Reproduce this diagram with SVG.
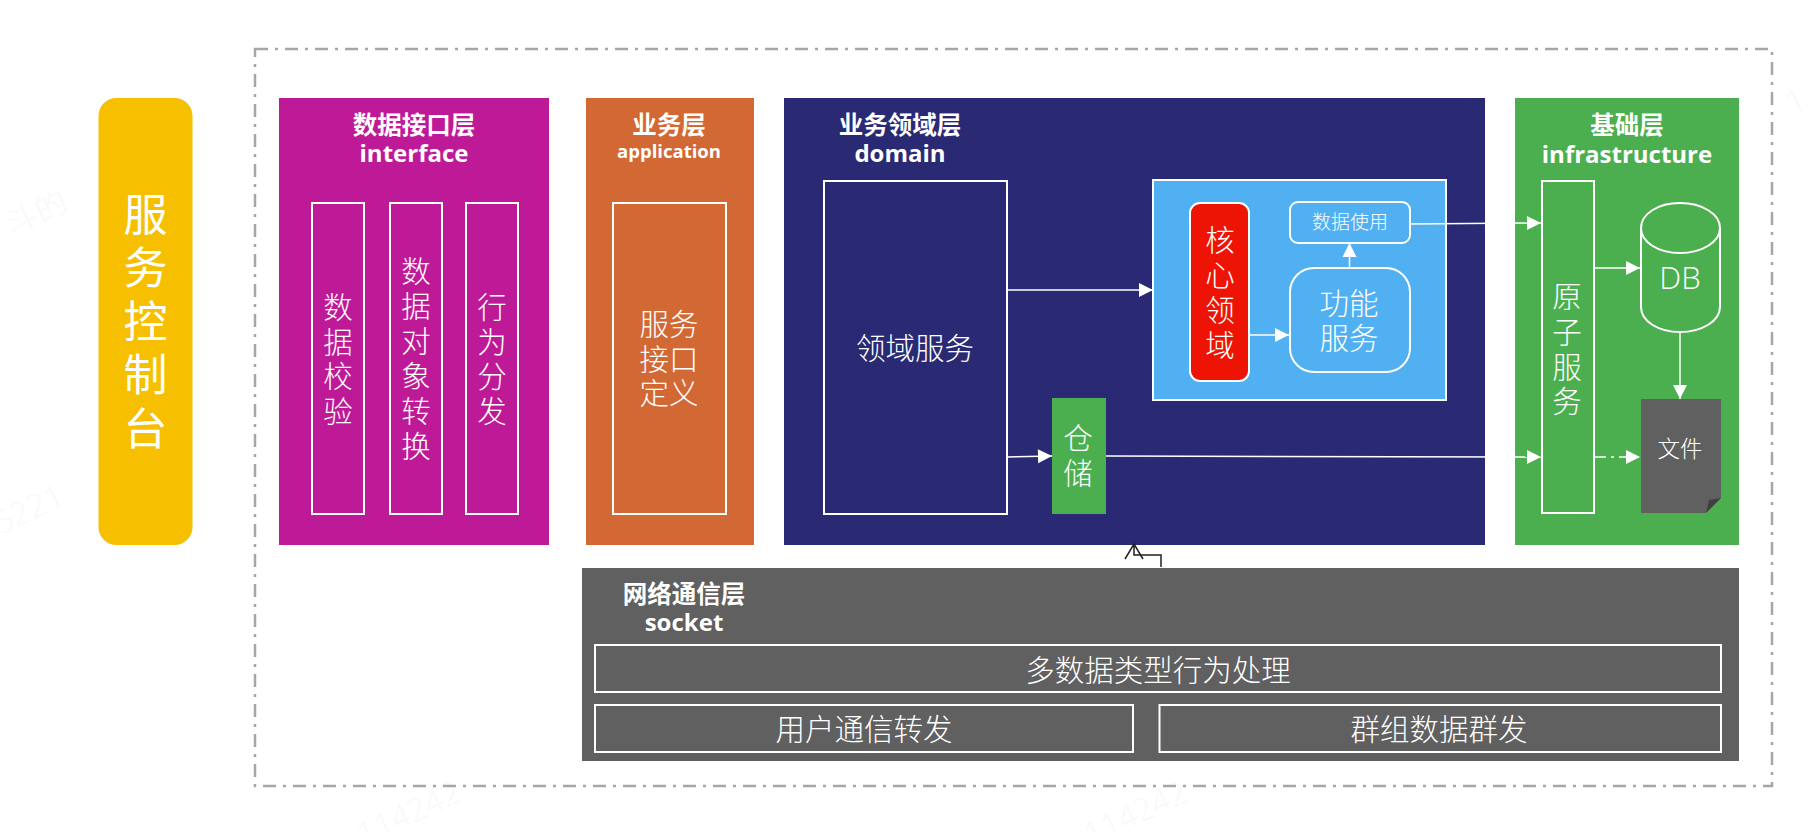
<svg xmlns="http://www.w3.org/2000/svg" width="1808" height="832" viewBox="0 0 1808 832">
<style>
text{font-family:"Open Sans","Noto Sans CJK SC",sans-serif;fill:#fff;text-anchor:middle;dominant-baseline:central}
.h{font-weight:700;font-size:24.500px}
.e{font-weight:700;font-size:24px}
.t{font-size:29.500px;font-weight:300}
.b{fill:none;stroke:#fff;stroke-width:2}
.c{fill:none;stroke:#fff;stroke-width:1.500;marker-end:url(#a)}
.w{fill:#f9f9f9;font-size:32px;font-weight:300}
</style>
<defs><marker id="a" markerUnits="userSpaceOnUse" markerWidth="16" markerHeight="16" refX="15" refY="8" orient="auto"><path d="M1 1L15 8L1 15Z" fill="#fff"/></marker></defs>
<rect width="1808" height="832" fill="#fff"/>
<g id="watermarks">
<text class="w" transform="translate(36 212) rotate(-25)">斗的</text>
<text class="w" transform="translate(28 508) rotate(-25)">5221</text>
<text class="w" transform="translate(408 812) rotate(-25)">114242</text>
<text class="w" transform="translate(1135 812) rotate(-25)">114242</text>
<text class="w" transform="translate(1795 100) rotate(-25)">1</text>
</g>
<rect id="frame" x="255" y="49" width="1517" height="737" fill="none" stroke="#a6a6a6" stroke-width="2.500" stroke-dasharray="13 7 3 7"/>
<g id="console"><rect x="98.500" y="98" width="94" height="447" rx="18" fill="#f6c000"/>
<text font-size="44" font-weight="400"><tspan x="145.500" y="214">服</tspan><tspan x="145.500" y="267">务</tspan><tspan x="145.500" y="321">控</tspan><tspan x="145.500" y="374">制</tspan><tspan x="145.500" y="428">台</tspan></text></g>
<g id="interface"><rect x="279" y="98" width="270" height="447" fill="#be1a97"/>
<text class="h" x="414" y="124">数据接口层</text><text class="e" x="414" y="152">interface</text></g>
<g id="n-check"><rect class="b" x="312" y="203" width="52" height="311"/>
<text class="t"><tspan x="338" y="306">数</tspan><tspan x="338" y="341">据</tspan><tspan x="338" y="375">校</tspan><tspan x="338" y="410">验</tspan></text></g>
<g id="n-convert"><rect class="b" x="390" y="203" width="52" height="311"/>
<text class="t"><tspan x="416" y="270">数</tspan><tspan x="416" y="305">据</tspan><tspan x="416" y="340">对</tspan><tspan x="416" y="375">象</tspan><tspan x="416" y="410">转</tspan><tspan x="416" y="445">换</tspan></text></g>
<g id="n-dispatch"><rect class="b" x="466" y="203" width="52" height="311"/>
<text class="t"><tspan x="492" y="306">行</tspan><tspan x="492" y="341">为</tspan><tspan x="492" y="375">分</tspan><tspan x="492" y="410">发</tspan></text></g>
<g id="application"><rect x="586" y="98" width="168" height="447" fill="#d26834"/>
<text class="h" x="669" y="124">业务层</text><text class="e" style="font-size:18.500px" x="669" y="150">application</text></g>
<g id="n-service-def"><rect class="b" x="613" y="203" width="113" height="311"/>
<text class="t"><tspan x="669" y="323">服务</tspan><tspan x="669" y="358">接口</tspan><tspan x="669" y="392">定义</tspan></text></g>
<g id="domain"><rect x="784" y="98" width="701" height="447" fill="#2a2a74"/>
<text class="h" x="900" y="124">业务领域层</text><text class="e" x="900" y="152">domain</text></g>
<g id="n-domain-service"><rect class="b" x="824" y="181" width="183" height="333"/>
<text class="t" x="915" y="347">领域服务</text></g>
<g id="n-blue"><rect x="1153" y="180" width="293" height="220" fill="#50b0f2" stroke="#fff" stroke-width="2"/></g>
<g id="n-core"><rect x="1190" y="203" width="59" height="178" rx="10" fill="#ee1405" stroke="#fff" stroke-width="2"/>
<text class="t"><tspan x="1220" y="239">核</tspan><tspan x="1220" y="274">心</tspan><tspan x="1220" y="309">领</tspan><tspan x="1220" y="344">域</tspan></text></g>
<g id="n-data-use"><rect class="b" x="1290" y="202" width="120" height="41" rx="8"/>
<text x="1350" y="222" font-size="19" font-weight="300">数据使用</text></g>
<g id="n-func"><rect class="b" x="1290" y="268" width="120" height="104" rx="24"/>
<text class="t"><tspan x="1349" y="302">功能</tspan><tspan x="1349" y="337">服务</tspan></text></g>
<g id="n-repo"><rect x="1052" y="398" width="54" height="116" fill="#4baf50"/>
<text class="t"><tspan x="1078" y="437">仓</tspan><tspan x="1078" y="472">储</tspan></text></g>
<g id="infrastructure"><rect x="1515" y="98" width="224" height="447" fill="#4baf50"/>
<text class="h" x="1627" y="124">基础层</text><text class="e" x="1627" y="153">infrastructure</text></g>
<g id="n-atom"><rect class="b" x="1542" y="181" width="52" height="332"/>
<text class="t"><tspan x="1567" y="295">原</tspan><tspan x="1567" y="331">子</tspan><tspan x="1567" y="366">服</tspan><tspan x="1567" y="400">务</tspan></text></g>
<g id="n-db"><path class="b" d="M1641 228V307C1641 321 1658 332 1680 332S1720 321 1720 307V228C1720 214 1702 203 1680 203S1641 214 1641 228C1641 242 1658 253 1680 253S1720 242 1720 228"/>
<text x="1680" y="277" font-size="31" font-weight="300">DB</text></g>
<g id="n-file"><path d="M1641 399H1721V498L1706 513H1641Z" fill="#606060"/><path d="M1721 498L1706 513L1709 500Z" fill="#404040"/>
<text x="1680" y="448" font-size="22.500" font-weight="300">文件</text></g>
<g id="socket"><rect x="582" y="568" width="1157" height="193" fill="#606060"/>
<text class="h" x="684" y="593">网络通信层</text><text class="e" x="684" y="621">socket</text></g>
<g id="n-multi"><rect class="b" x="595" y="645" width="1126" height="47"/><text class="t" x="1158" y="669">多数据类型行为处理</text></g>
<g id="n-user"><rect class="b" x="595" y="705" width="538" height="47"/><text class="t" x="864" y="728">用户通信转发</text></g>
<g id="n-group"><rect class="b" x="1159.500" y="705" width="561.500" height="47"/><text class="t" x="1439" y="728">群组数据群发</text></g>
<g id="connectors">
<path class="c" d="M1007 290H1153"/>
<path class="c" d="M1007 457L1052 456"/>
<path class="c" d="M1106 456L1541 457"/>
<path class="c" d="M1249 335H1289"/>
<path class="c" d="M1349.500 268V243"/>
<path class="c" d="M1410 224L1541 223"/>
<path class="c" d="M1594 268H1640"/>
<path class="c" d="M1680 332V399"/>
<path class="c" d="M1594 457H1640" stroke-dasharray="12 5 3 5"/>
<path d="M1161 567V555H1134V544M1125 559L1134 544L1143 559" fill="none" stroke="#222" stroke-width="1.500"/>
</g>
</svg>
